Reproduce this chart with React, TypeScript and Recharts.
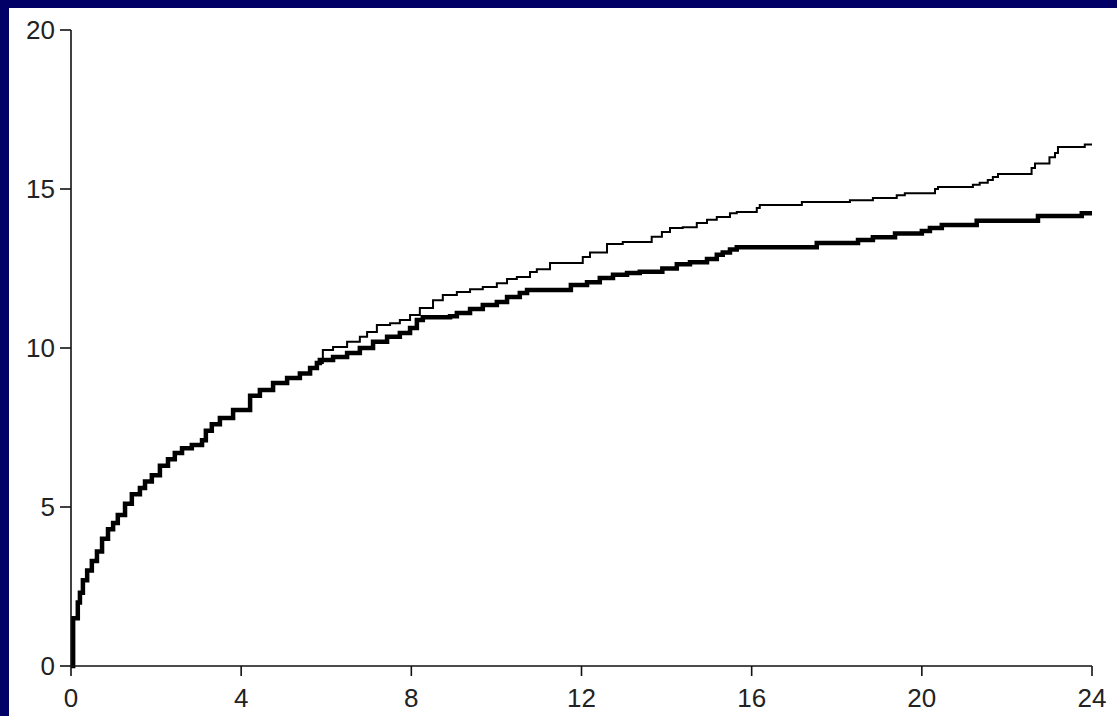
import { LineChart, Line, XAxis, YAxis } from 'recharts'

// shared early part of both curves (years, cumulative %)
const commonT = [0, 0.05, 0.16, 0.21, 0.28, 0.38, 0.49, 0.61, 0.73, 0.87, 0.99, 1.1, 1.27, 1.43, 1.62, 1.74, 1.9, 2.09, 2.28, 2.44, 2.61, 2.84, 3.08, 3.17, 3.31, 3.5, 3.81, 4.21, 4.44, 4.75, 5.08, 5.38, 5.62, 5.78]
const commonV = [0, 1.5, 2.0, 2.3, 2.7, 3.0, 3.3, 3.6, 4.0, 4.3, 4.5, 4.75, 5.1, 5.4, 5.6, 5.8, 6.0, 6.3, 6.5, 6.7, 6.85, 6.95, 7.1, 7.4, 7.6, 7.8, 8.05, 8.5, 8.68, 8.9, 9.06, 9.2, 9.37, 9.53]

// thick curve after split
const thickT = [5.85, 6.16, 6.49, 6.79, 7.1, 7.43, 7.73, 7.97, 8.13, 8.27, 8.91, 9.07, 9.38, 9.68, 10.01, 10.25, 10.55, 10.72, 11.75, 12.13, 12.43, 12.74, 13.07, 13.37, 13.9, 14.24, 14.55, 14.95, 15.18, 15.32, 15.49, 15.65, 17.53, 18.5, 18.85, 19.37, 20.0, 20.19, 20.47, 21.29, 22.73, 23.76, 24]
const thickV = [9.62, 9.72, 9.84, 10.0, 10.2, 10.35, 10.47, 10.63, 10.88, 10.97, 11.0, 11.1, 11.23, 11.35, 11.45, 11.6, 11.73, 11.82, 11.98, 12.07, 12.2, 12.3, 12.36, 12.4, 12.5, 12.63, 12.7, 12.8, 12.93, 13.0, 13.1, 13.17, 13.3, 13.4, 13.48, 13.6, 13.68, 13.77, 13.87, 14.0, 14.15, 14.24, 14.24]

// thin curve after split
const thinT = [5.92, 6.16, 6.49, 6.79, 6.96, 7.19, 7.5, 7.73, 7.97, 8.2, 8.51, 8.74, 9.07, 9.38, 9.68, 10.01, 10.25, 10.48, 10.79, 10.95, 11.26, 12.03, 12.2, 12.6, 12.97, 13.65, 13.89, 14.08, 14.38, 14.71, 14.95, 15.18, 15.49, 15.65, 16.12, 16.19, 17.18, 18.31, 18.85, 19.41, 19.6, 20.31, 20.38, 21.2, 21.36, 21.55, 21.67, 21.79, 22.58, 22.66, 23.0, 23.13, 23.2, 23.83, 24]
const thinV = [9.94, 10.03, 10.2, 10.35, 10.5, 10.72, 10.78, 10.88, 11.04, 11.26, 11.5, 11.67, 11.76, 11.85, 11.92, 12.04, 12.17, 12.23, 12.39, 12.48, 12.67, 12.86, 13.0, 13.27, 13.33, 13.5, 13.65, 13.77, 13.8, 13.93, 14.03, 14.12, 14.24, 14.28, 14.4, 14.5, 14.59, 14.65, 14.72, 14.8, 14.87, 15.0, 15.06, 15.13, 15.2, 15.28, 15.38, 15.47, 15.66, 15.8, 16.0, 16.13, 16.32, 16.4, 16.4]

const xTicks = [0, 4, 8, 12, 16, 20, 24]
const yTicks = [0, 5, 10, 15, 20]

const toPoints = (t: number[], v: number[]) => t.map((x, i) => ({ t: x, v: v[i] }))

const thickData = toPoints([...commonT, ...thickT], [...commonV, ...thickV])
const thinData = toPoints([...commonT, ...thinT], [...commonV, ...thinV])

const tickStyle = { fontFamily: '"Liberation Sans", Arial, sans-serif', fontSize: 26, fill: '#222' }
const axisLine = { stroke: '#111', strokeWidth: 1.6 }

export default function App() {
  return (
    <div style={{ position: 'absolute', left: 0, top: 0, width: 1117, height: 716, background: '#000066', overflow: 'hidden' }}>
      <div style={{ position: 'absolute', left: 9, top: 8, width: 1108, height: 708, background: '#fff' }}>
        <LineChart width={1108} height={708} margin={{ top: 22, right: 25, bottom: 0, left: 0 }}>
          <XAxis
            type="number"
            dataKey="t"
            domain={[0, 24]}
            ticks={xTicks}
            height={50}
            tickSize={10}
            tickMargin={13}
            axisLine={axisLine}
            tickLine={axisLine}
            tick={tickStyle}
            allowDataOverflow
          />
          <YAxis
            type="number"
            domain={[0, 20]}
            ticks={yTicks}
            width={62}
            tickSize={11}
            tickMargin={5}
            axisLine={axisLine}
            tickLine={axisLine}
            tick={tickStyle}
          />
          <Line data={thickData} dataKey="v" type="stepAfter" stroke="#000" strokeWidth={4.5} dot={false} isAnimationActive={false} />
          <Line data={thinData} dataKey="v" type="stepAfter" stroke="#000" strokeWidth={2} dot={false} isAnimationActive={false} />
        </LineChart>
      </div>
    </div>
  )
}
